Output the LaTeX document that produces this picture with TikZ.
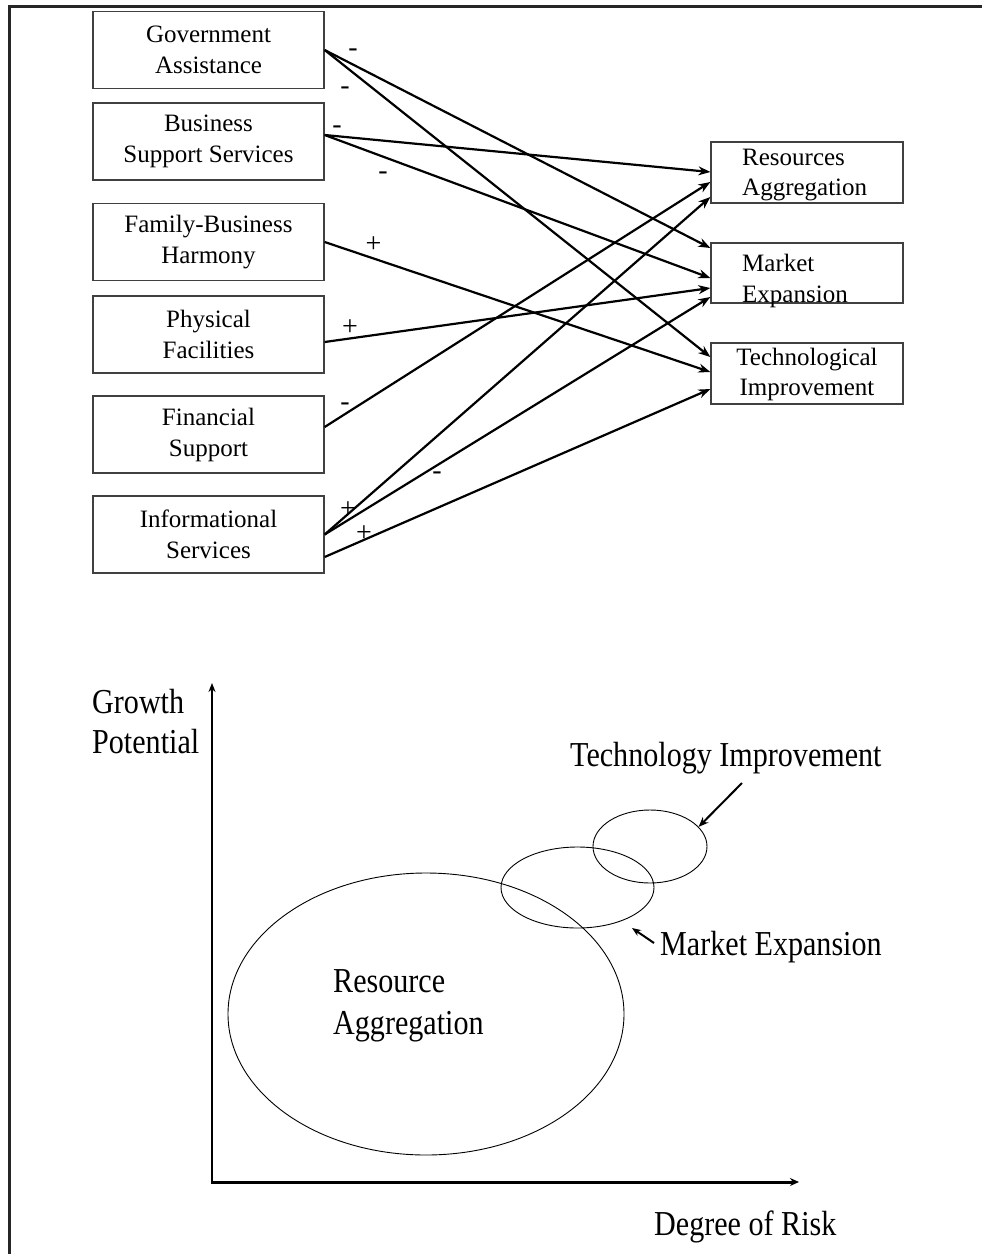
\documentclass[tikz,border=0pt]{standalone}
\usepackage{fontspec}
\setmainfont{Liberation Serif}
\newfontfamily\condfont{Liberation Serif}[FakeStretch=0.86]
\usetikzlibrary{arrows.meta,calc,shapes.geometric}
\begin{document}
\begin{tikzpicture}[x=1pt,y=-1pt,
  lbox/.style={draw=black!75, line width=1.3pt, minimum width=231pt, minimum height=77pt,
    inner sep=0pt, align=center, font=\fontsize{25}{31}\selectfont},
  rbox/.style={draw=black!75, line width=1.3pt, minimum width=192pt, minimum height=61pt, inner sep=0pt},
  rtext/.style={inner sep=0pt, align=left, text width=150pt, anchor=base west,
    font=\fontsize{25}{30}\selectfont},
  link/.style={line width=2.2pt, -{Stealth[length=12pt,width=9pt]}},
  sign/.style={inner sep=0pt, font=\fontsize{28}{30}\selectfont},
  chart/.style={inner sep=0pt, anchor=base west, font=\condfont\fontsize{35}{40}\selectfont},
  bubble/.style={ellipse, draw, line width=0.9pt, inner sep=0pt},
  pointer/.style={line width=2pt, -{Stealth[length=10pt,width=8pt]}}
]
\useasboundingbox (0,0) rectangle (982,1254);

% frame
\draw[line width=3pt, black!85, line join=miter] (982,6.5) -- (9.5,6.5) -- (9.5,1254);

% left boxes
\node[lbox] (gov) at (208.5,50) {Government\\Assistance};
\node[lbox] (bus) at (208.5,141.5) {Business\\Support Services};
\node[lbox] (fam) at (208.5,242) {Family-Business\\Harmony};
\node[lbox] (phy) at (208.5,334.5) {Physical\\Facilities};
\node[lbox] (fin) at (208.5,434.5) {Financial\\Support};
\node[lbox] (inf) at (208.5,534.5) {Informational\\Services};

% right boxes
\node[rbox] (res) at (807,172.5) {};
\node[rbox, minimum height=60pt] (mkt) at (807,273) {};
\node[rbox] (tec) at (807,373.5) {};
\node[rtext] (res-t) at (742,165) {Resources\\Aggregation};
\node[rtext, font=\fontsize{25}{31}\selectfont] (mkt-t) at (742,271) {Market\\Expansion};
\node[inner sep=0pt, align=center, font=\fontsize{25}{30}\selectfont] (tec-t) at (807,374) {Technological\\Improvement};

% connectors
\draw[link] (gov.east) -- ([yshift=25pt]mkt.west);
\draw[link] (gov.east) -- ([yshift=16.5pt]tec.west);
\draw[link] ([yshift=6.5pt]bus.east) -- ([yshift=0.5pt]res.west);
\draw[link] ([yshift=6.5pt]bus.east) -- ([yshift=-5pt]mkt.west);
\draw[link] (fam.east) -- ([yshift=1.5pt]tec.west);
\draw[link] ([yshift=-7.5pt]phy.east) -- ([yshift=-15pt]mkt.west);
\draw[link] ([yshift=7.5pt]fin.east) -- ([yshift=-9.5pt]res.west);
\draw[link] (inf.east) -- ([yshift=-24.5pt]res.west);
\draw[link] (inf.east) -- ([yshift=-24pt]mkt.west);
\draw[link] ([yshift=-22.5pt]inf.east) -- ([yshift=-15.5pt]tec.west);

% signs
\node[sign] (s1) at (353,52.5) {-};
\node[sign] (s2) at (345,90.5) {-};
\node[sign] (s3) at (337,130) {-};
\node[sign] (s4) at (383,175.5) {-};
\node[sign] (s5) at (373.5,245) {+};
\node[sign] (s6) at (350,327.5) {+};
\node[sign] (s7) at (345,406.5) {-};
\node[sign] (s8) at (437,475.5) {-};
\node[sign] (s9) at (348,510) {+};
\node[sign] (s10) at (364,533.5) {+};

% chart axes
\coordinate (O) at (212,1182);
\coordinate (ytip) at (212,683);
\coordinate (xstart) at (211,1182);
\coordinate (xtip) at (799,1182);
\draw[line width=1.8pt, -{Stealth[length=9pt,width=7pt]}] (O) -- (ytip);
\draw[line width=3pt, -{Stealth[length=9pt,width=8pt]}] (xstart) -- (xtip);

% bubbles
\node[bubble, minimum width=396pt, minimum height=282pt] (ra) at (426,1014) {};
\node[bubble, minimum width=153pt, minimum height=81pt] (me) at (577.5,887.5) {};
\node[bubble, minimum width=114pt, minimum height=73pt] (ti) at (650,846.5) {};

% chart labels
\node[chart] (gp1) at (92,713) {Growth};
\node[chart] (gp2) at (92,753) {Potential};
\node[chart] (til) at (570,766) {Technology Improvement};
\node[chart] (mel) at (660,955) {Market Expansion};
\node[chart] (ra1) at (333,992) {Resource};
\node[chart] (ra2) at (333,1034) {Aggregation};
\node[chart] (dr) at (654,1235) {Degree of Risk};

% pointers
\coordinate (ttail) at (742,783);
\draw[pointer] (ttail) -- (ti.22);
\coordinate (mtail) at (654,943);
\coordinate (mtip) at (632,928);
\draw[pointer, -{Stealth[length=9pt,width=7pt]}] (mtail) -- (mtip);
\end{tikzpicture}
\end{document}
